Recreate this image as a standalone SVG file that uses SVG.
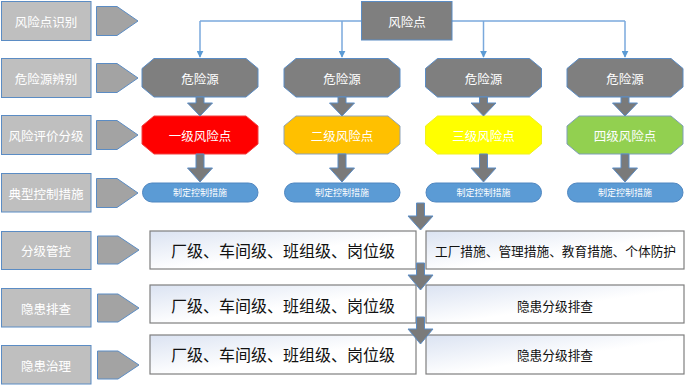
<svg xmlns="http://www.w3.org/2000/svg" width="689" height="387" viewBox="0 0 689 387">
<style>
text{font-family:"Noto Sans CJK SC","Liberation Sans",sans-serif;dominant-baseline:central;text-anchor:middle}
.lbl rect{fill:#bfbfbf;stroke:#5b8cc4;stroke-width:1}
.lbl text{fill:#fff;font-size:12.5px}
.chev{fill:#a3a3a3;stroke:#5b8cc4;stroke-width:1}
.hz{fill:#7f7f7f;stroke:#5b8cc4;stroke-width:1}
.wt{fill:#fff;font-size:12.5px}
.pill{fill:#5b9bd5;stroke:#4f86c0;stroke-width:1}
.pt{fill:#fff;font-size:9px}
.box{fill:url(#g);stroke:#7f7f7f;stroke-width:1.2}
.bt{fill:#111;font-size:16px}
.st{fill:#111;font-size:12.7px}
.ga{fill:#7a7a7a;stroke:#5b8cc4;stroke-width:1}
.cn{fill:none;stroke:#7aa9dc;stroke-width:1.5}
</style>
<defs>
<linearGradient id="g" x1="0" y1="0" x2="1" y2="1">
<stop offset="0" stop-color="#dbe3f2"/>
<stop offset="0.55" stop-color="#ffffff"/>
<stop offset="1" stop-color="#ffffff"/>
</linearGradient>
<marker id="ah" viewBox="0 0 10 10" refX="9" refY="5" markerWidth="7" markerHeight="7" orient="auto" markerUnits="userSpaceOnUse">
<path d="M0,0 L10,5 L0,10 Z" fill="#5b9bd5"/>
</marker>
</defs>

<g id="labels">
<g id="lbl1" class="lbl"><rect x="1.5" y="1.5" width="89.5" height="39"/><text x="46" y="21">风险点识别</text></g>
<g id="lbl2" class="lbl"><rect x="1.5" y="58.5" width="89.5" height="39"/><text x="46" y="78">危险源辨别</text></g>
<g id="lbl3" class="lbl"><rect x="1.5" y="115.5" width="89.5" height="39"/><text x="46" y="135">风险评价分级</text></g>
<g id="lbl4" class="lbl"><rect x="1.5" y="173.5" width="89.5" height="38.5"/><text x="46" y="193">典型控制措施</text></g>
<g id="lbl5" class="lbl"><rect x="1.5" y="231.5" width="89.5" height="38"/><text x="46" y="250">分级管控</text></g>
<g id="lbl6" class="lbl"><rect x="1.5" y="288.5" width="89.5" height="38.5"/><text x="46" y="308">隐患排查</text></g>
<g id="lbl7" class="lbl"><rect x="1.5" y="345.5" width="89.5" height="38.5"/><text x="46" y="365">隐患治理</text></g>
</g>

<g id="chevrons">
<path class="chev" d="M96.5,6.5 H117 L138,21 L117,35.5 H96.5 Z"/>
<path class="chev" d="M96.5,63.5 H117 L138,78 L117,92.5 H96.5 Z"/>
<path class="chev" d="M96.5,120.5 H117 L138,135 L117,149.5 H96.5 Z"/>
<path class="chev" d="M96.5,178.5 H117 L138,193 L117,207.5 H96.5 Z"/>
<path class="chev" d="M97.5,236 H118 L139,250 L118,264 H97.5 Z"/>
<path class="chev" d="M97.5,294 H118 L139,308 L118,322 H97.5 Z"/>
<path class="chev" d="M97.5,351 H118 L139,365 L118,379 H97.5 Z"/>
</g>

<g id="connectors">
<path class="cn" d="M200,21 H625"/>
<path class="cn" d="M200,21 V57" marker-end="url(#ah)"/>
<path class="cn" d="M342,21 V57" marker-end="url(#ah)"/>
<path class="cn" d="M483.5,21 V57" marker-end="url(#ah)"/>
<path class="cn" d="M625,21 V57" marker-end="url(#ah)"/>
</g>

<g id="risk-point">
<rect class="hz" x="361.5" y="1.5" width="90.5" height="38.5"/>
<text class="wt" x="407" y="21">风险点</text>
</g>

<g id="hazards">
<g id="hz1"><path class="hz" d="M154,58.5 H246 L258,68.5 V87 L246,97 H154 L142,87 V68.5 Z"/><text class="wt" x="200" y="78">危险源</text></g>
<g id="hz2"><path class="hz" d="M296,58.5 H388 L400,68.5 V87 L388,97 H296 L284,87 V68.5 Z"/><text class="wt" x="342" y="78">危险源</text></g>
<g id="hz3"><path class="hz" d="M437.5,58.5 H529.5 L541.5,68.5 V87 L529.5,97 H437.5 L425.5,87 V68.5 Z"/><text class="wt" x="483.5" y="78">危险源</text></g>
<g id="hz4"><path class="hz" d="M579,58.5 H671 L683,68.5 V87 L671,97 H579 L567,87 V68.5 Z"/><text class="wt" x="625" y="78">危险源</text></g>
</g>

<g id="levels">
<g id="lv1"><path d="M154,116 H246 L258,126 V144 L246,154 H154 L142,144 V126 Z" fill="#ff0000" stroke="#f04040" stroke-width="1"/><text class="wt" x="200" y="135">一级风险点</text></g>
<g id="lv2"><path d="M296,116 H388 L400,126 V144 L388,154 H296 L284,144 V126 Z" fill="#ffc000" stroke="#8fa3b8" stroke-width="1"/><text class="wt" x="342" y="135">二级风险点</text></g>
<g id="lv3"><path d="M437.5,116 H529.5 L541.5,126 V144 L529.5,154 H437.5 L425.5,144 V126 Z" fill="#ffff00" stroke="#f0f020" stroke-width="1"/><text class="wt" x="483.5" y="135">三级风险点</text></g>
<g id="lv4"><path d="M579,116 H671 L683,126 V144 L671,154 H579 L567,144 V126 Z" fill="#92d050" stroke="#7f9fb8" stroke-width="1"/><text class="wt" x="625" y="135">四级风险点</text></g>
</g>

<g id="measures">
<g id="ms1"><rect class="pill" x="142.5" y="183" width="115.5" height="19" rx="9.5"/><text class="pt" x="200" y="192.5">制定控制措施</text></g>
<g id="ms2"><rect class="pill" x="284.5" y="183" width="115.5" height="19" rx="9.5"/><text class="pt" x="342" y="192.5">制定控制措施</text></g>
<g id="ms3"><rect class="pill" x="426" y="183" width="115.5" height="19" rx="9.5"/><text class="pt" x="483.5" y="192.5">制定控制措施</text></g>
<g id="ms4"><rect class="pill" x="567.5" y="183" width="115.5" height="19" rx="9.5"/><text class="pt" x="625" y="192.5">制定控制措施</text></g>
</g>

<g id="level-boxes">
<g id="r5l"><rect class="box" x="150" y="231" width="266" height="38"/><text class="bt" x="283" y="250">厂级、车间级、班组级、岗位级</text></g>
<g id="r5r"><rect class="box" x="426" y="231" width="258" height="38"/><text class="st" x="555.5" y="250">工厂措施、管理措施、教育措施、个体防护</text></g>
<g id="r6l"><rect class="box" x="150" y="285" width="266" height="38"/><text class="bt" x="283" y="305">厂级、车间级、班组级、岗位级</text></g>
<g id="r6r"><rect class="box" x="426" y="285" width="258" height="38"/><text class="st" x="555" y="305">隐患分级排查</text></g>
<g id="r7l"><rect class="box" x="150" y="335" width="266" height="39"/><text class="bt" x="283" y="354">厂级、车间级、班组级、岗位级</text></g>
<g id="r7r"><rect class="box" x="426" y="335" width="258" height="39"/><text class="st" x="555" y="354">隐患分级排查</text></g>
</g>

<g id="flow-arrows">
<path class="ga" d="M196,97 H204 V103 H212.5 L200,116 L187.5,103 H196 Z"/>
<path class="ga" d="M338,97 H346 V103 H354.5 L342,116 L329.5,103 H338 Z"/>
<path class="ga" d="M479.5,97 H487.5 V103 H496 L483.5,116 L471,103 H479.5 Z"/>
<path class="ga" d="M621,97 H629 V103 H637.5 L625,116 L612.5,103 H621 Z"/>
<path class="ga" d="M196,154 H204 V168 H212.5 L200,182 L187.5,168 H196 Z"/>
<path class="ga" d="M338,154 H346 V168 H354.5 L342,182 L329.5,168 H338 Z"/>
<path class="ga" d="M479.5,154 H487.5 V168 H496 L483.5,182 L471,168 H479.5 Z"/>
<path class="ga" d="M621,154 H629 V168 H637.5 L625,182 L612.5,168 H621 Z"/>
<path class="ga" d="M416.5,203 H424.5 V216 H433 L420.5,230 L408,216 H416.5 Z"/>
<path class="ga" d="M416.5,263 H424.5 V275 H433 L420.5,290 L408,275 H416.5 Z"/>
<path class="ga" d="M416.5,317 H424.5 V329 H433 L420.5,344 L408,329 H416.5 Z"/>
</g>
</svg>
